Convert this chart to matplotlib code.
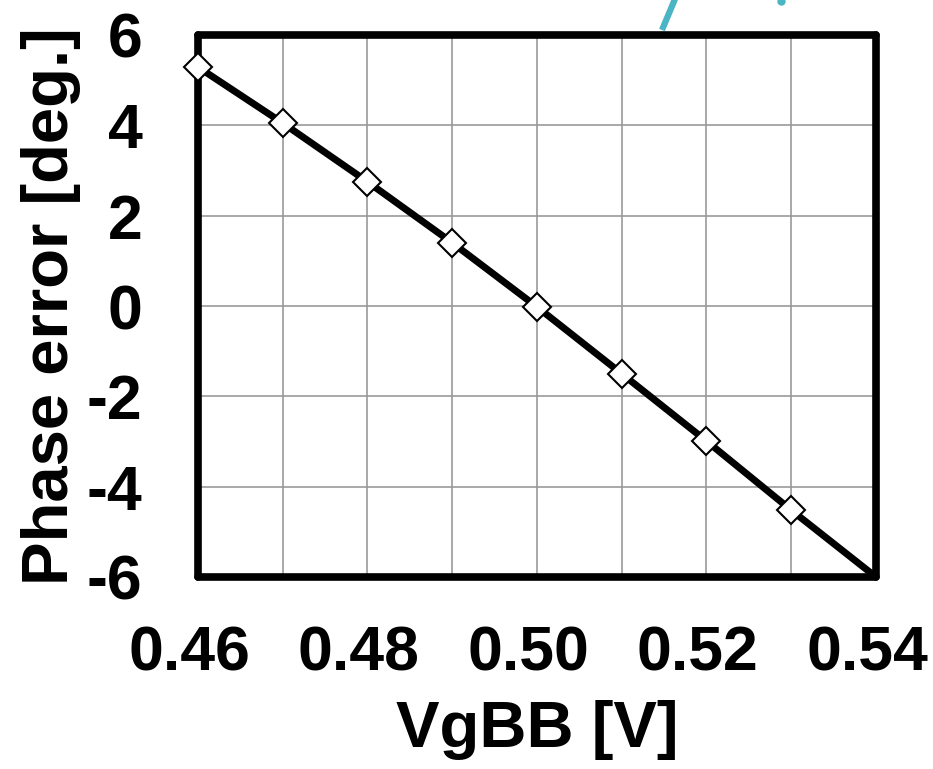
import matplotlib
matplotlib.use("Agg")
import matplotlib.pyplot as plt
import matplotlib.transforms as mtransforms
from matplotlib.lines import Line2D

vgbb = [0.46, 0.47, 0.48, 0.49, 0.50, 0.51, 0.52, 0.53, 0.54]
phase_err = [5.29, 4.05, 2.75, 1.40, -0.02, -1.50, -2.99, -4.52, -6.00]
xticks = [0.46, 0.48, 0.50, 0.52, 0.54]
xtick_labels = ["0.46", "0.48", "0.50", "0.52", "0.54"]
yticks = [-6, -4, -2, 0, 2, 4, 6]
ytick_labels = ["-6", "-4", "-2", "0", "2", "4", "6"]

plt.rcParams['font.family'] = ['Liberation Sans', 'DejaVu Sans']
plt.rcParams['font.weight'] = 'bold'

fig = plt.figure(figsize=(9.33, 7.69), dpi=100)
ax = fig.add_axes([198/933, 1-577/769, (876-198)/933, (577-35)/769])

ax.plot(vgbb, phase_err, color='black', lw=5, marker='D', markersize=14,
        markerfacecolor='white', markeredgecolor='black', markeredgewidth=1.5,
        markevery=list(range(8)), clip_on=False, zorder=3, solid_capstyle='butt')

ax.set_xlim(0.46, 0.54)
ax.set_ylim(-6, 6)
ax.set_xticks(xticks)
ax.set_xticklabels(xtick_labels)
ax.set_yticks(yticks)
ax.set_yticklabels(ytick_labels)
ax.set_xticks([0.47, 0.49, 0.51, 0.53], minor=True)
ax.grid(True, which='both', color='#999999', lw=1.2)
ax.tick_params(which='both', length=0, labelsize=45)
ax.tick_params(axis='x', pad=34)
ax.tick_params(axis='y', pad=40)
shift = mtransforms.ScaledTranslation(-9/100, 0, fig.dpi_scale_trans)
for lab in ax.get_xticklabels():
    lab.set_fontweight('bold')
    lab.set_transform(lab.get_transform() + shift)
for lab in ax.get_yticklabels():
    lab.set_fontweight('bold')
for s in ax.spines.values():
    s.set_linewidth(5.5)
    s.set_joinstyle('round')
    s.set_capstyle('round')

ax.set_xlabel('VgBB [V]', fontsize=47, fontweight='bold', labelpad=12)
ax.set_ylabel('Phase error [deg.]', fontsize=47, fontweight='bold', labelpad=4)

# cyan fragment at top (partial arrow from cropped figure)
fig.add_artist(Line2D([662/933, 681/933], [1-30/769, 1.02], color='#4AB5C4', lw=4.5,
                      transform=fig.transFigure, solid_capstyle='butt'))
fig.add_artist(Line2D([781/933], [1-1/769], color='#4AB5C4', marker='o', markersize=5,
                      transform=fig.transFigure, lw=0))

fig.savefig('out.png', dpi=100)
